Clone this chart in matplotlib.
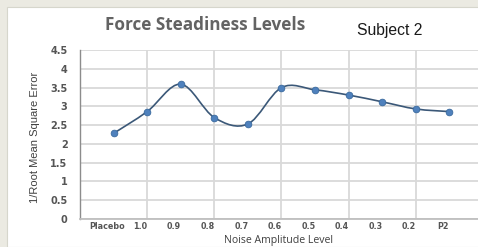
import matplotlib
matplotlib.use("Agg")
import matplotlib.pyplot as plt
import numpy as np
from matplotlib.path import Path
from matplotlib.patches import PathPatch, Rectangle

# data
levels = ["Placebo", "1.0", "0.9", "0.8", "0.7", "0.6", "0.5", "0.4", "0.3", "0.2", "P2"]
inv_rmse = [2.28, 2.86, 3.59, 2.70, 2.53, 3.50, 3.44, 3.30, 3.12, 2.93, 2.86]
y_ticks = [0, 0.5, 1, 1.5, 2, 2.5, 3, 3.5, 4, 4.5]
y_tick_labels = ["0", "0.5", "1", "1.5", "2", "2.5", "3", "3.5", "4", "4.5"]

LINE = "#3b5878"
MARK = "#4f81bd"
GRID = "#d9d9d9"


def _smooth_path(x, y):
    # Excel-style smoothed line as cubic bezier segments through the points
    pts = np.column_stack([x, y])
    n = len(pts)
    verts = [pts[0]]
    codes = [Path.MOVETO]
    for i in range(n - 1):
        p0 = pts[i - 1] if i > 0 else pts[i]
        p1 = pts[i]
        p2 = pts[i + 1]
        p3 = pts[i + 2] if i + 2 < n else pts[i + 1]
        c1 = p1 + (p2 - p0) / 6.0
        c2 = p2 - (p3 - p1) / 6.0
        verts += [c1, c2, p2]
        codes += [Path.CURVE4] * 3
    return Path(verts, codes)


fig = plt.figure(figsize=(4.78, 2.47), dpi=100, facecolor="#ebeae2")
fig.patches.append(Rectangle((7 / 478, 0), 1, 1 - 7 / 247, transform=fig.transFigure,
                             facecolor="white", edgecolor="#d6d6cc", linewidth=0.8,
                             zorder=-5))

ax = fig.add_axes([80 / 478, 1 - 219 / 247, 403 / 478, 169 / 247])
ax.set_facecolor("none")

x = np.arange(len(levels))
ax.add_patch(PathPatch(_smooth_path(x, inv_rmse), facecolor="none",
                       edgecolor=LINE, linewidth=1.2, zorder=3))
ax.plot(x, inv_rmse, linestyle="none", marker="o", markersize=4.8,
        markerfacecolor=MARK, markeredgecolor="#3a6a9e", markeredgewidth=0.6, zorder=4)

ax.set_xlim(-1, 11)
ax.set_ylim(0, 4.5)
ax.set_yticks(y_ticks)
ax.set_yticklabels(y_tick_labels)
ax.set_xticks(x - 0.2)
ax.set_xticklabels(levels)
ax.set_xticks(np.arange(-1, 12, 2), minor=True)

ax.grid(axis="y", which="major", color=GRID, linewidth=1.3)
ax.grid(axis="x", which="minor", color=GRID, linewidth=1.3)
ax.tick_params(which="both", length=0)
ax.tick_params(axis="y", pad=9, labelsize=7, labelcolor="#555555")
ax.tick_params(axis="x", pad=2.5, labelsize=5.8, labelcolor="#555555")
for lab in ax.get_xticklabels():
    lab.set_fontweight("bold")
for lab in ax.get_yticklabels():
    lab.set_fontweight("bold")

for side in ["top", "right"]:
    ax.spines[side].set_visible(False)
ax.spines["left"].set_color("#8c8c8c")
ax.spines["left"].set_linewidth(1.0)
ax.spines["bottom"].set_color("#bfbfbf")
ax.spines["bottom"].set_linewidth(1.3)

fig.text(205 / 478, 1 - 25 / 247, "Force Steadiness Levels", ha="center", va="center",
         fontsize=12.3, fontweight="bold", family="Open Sans", color="#636363")
fig.text(390 / 478, 1 - 30 / 247, "Subject 2", ha="center", va="center",
         fontsize=11.3, family="Liberation Sans", color="#1a1a1a")
fig.text(35 / 478, 1 - 137 / 247, "1/Root Mean Square Error", rotation=90,
         ha="center", va="center", fontsize=8, family="Liberation Sans", color="#404040")
fig.text(278 / 478, 1 - 240 / 247, "Noise Amplitude Level", ha="center", va="center",
         fontsize=7.6, family="Open Sans", color="#404040")

fig.savefig("out.png", dpi=100, facecolor=fig.get_facecolor())
